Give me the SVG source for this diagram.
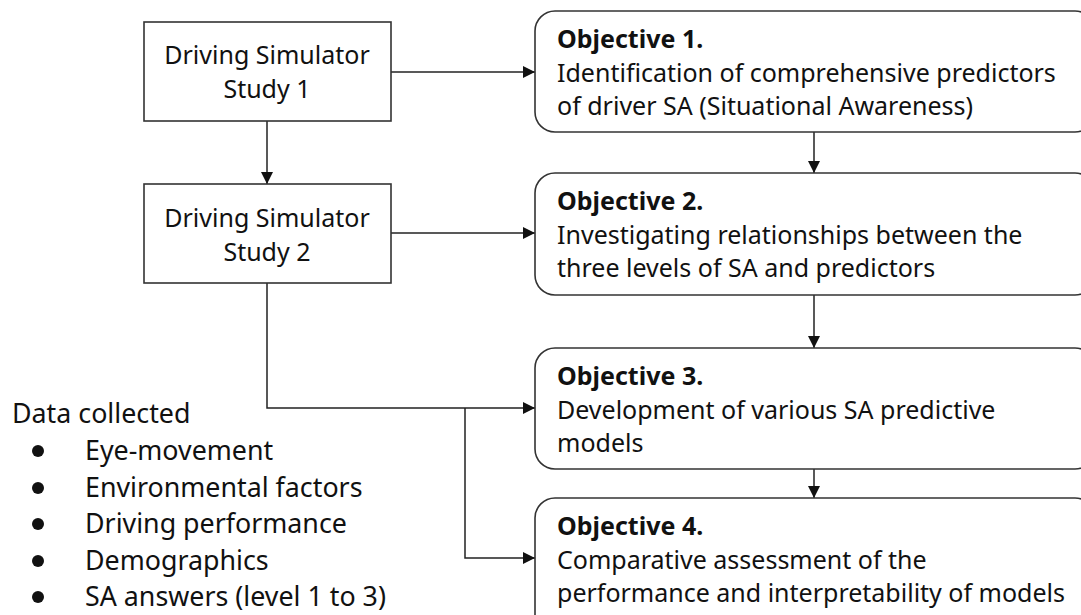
<svg xmlns="http://www.w3.org/2000/svg" width="1081" height="615" viewBox="0 0 1081 615">
<style>
text{font-family:"Noto Sans","Open Sans",sans-serif;font-size:25px;fill:#111}
.b{font-weight:bold}
.l{font-size:26.8px}
.box{fill:#fff;stroke:#333;stroke-width:1.6}
.c{fill:none;stroke:#222;stroke-width:1.5;marker-end:url(#ah)}
.dot{fill:#111}
</style>
<defs>
<marker id="ah" viewBox="0 0 10 10" refX="10" refY="5" markerWidth="13" markerHeight="12" markerUnits="userSpaceOnUse" orient="auto">
<path d="M0,0 L10,5 L0,10 z" fill="#111"/>
</marker>
</defs>
<rect width="1081" height="615" fill="#fff"/>
<g id="connectors">
<path class="c" d="M391,72 H535"/>
<path class="c" d="M267,121 V184"/>
<path class="c" d="M391,233 H535"/>
<path class="c" d="M814,132 V173"/>
<path class="c" d="M814,295 V348"/>
<path class="c" d="M814,469 V498"/>
<path class="c" d="M267,283 V408 H535"/>
<path class="c" d="M465,408 V558 H535"/>
</g>
<g id="study1">
<rect class="box" x="144" y="22" width="247" height="99"/>
<text x="267" y="64" text-anchor="middle">Driving Simulator</text>
<text x="267" y="98" text-anchor="middle">Study 1</text>
</g>
<g id="study2">
<rect class="box" x="144" y="184" width="247" height="99"/>
<text x="267" y="227" text-anchor="middle">Driving Simulator</text>
<text x="267" y="261" text-anchor="middle">Study 2</text>
</g>
<g id="obj1">
<rect class="box" x="535" y="11" width="560" height="121" rx="20"/>
<text x="557" y="48" class="b">Objective 1.</text>
<text x="557" y="82">Identification of comprehensive predictors</text>
<text x="557" y="115">of driver SA (Situational Awareness)</text>
</g>
<g id="obj2">
<rect class="box" x="535" y="173" width="560" height="122" rx="20"/>
<text x="557" y="210" class="b">Objective 2.</text>
<text x="557" y="244">Investigating relationships between the</text>
<text x="557" y="277">three levels of SA and predictors</text>
</g>
<g id="obj3">
<rect class="box" x="535" y="348" width="560" height="121" rx="20"/>
<text x="557" y="385" class="b">Objective 3.</text>
<text x="557" y="419">Development of various SA predictive</text>
<text x="557" y="452">models</text>
</g>
<g id="obj4">
<rect class="box" x="535" y="498" width="560" height="140" rx="20"/>
<text x="557" y="535" class="b">Objective 4.</text>
<text x="557" y="569">Comparative assessment of the</text>
<text x="557" y="602">performance and interpretability of models</text>
</g>
<g id="data">
<text x="12" y="423" class="l">Data collected</text>
<circle class="dot" cx="38" cy="451" r="6"/>
<text x="85" y="460" class="l">Eye-movement</text>
<circle class="dot" cx="38" cy="488" r="6"/>
<text x="85" y="497" class="l">Environmental factors</text>
<circle class="dot" cx="38" cy="524" r="6"/>
<text x="85" y="533" class="l">Driving performance</text>
<circle class="dot" cx="38" cy="561" r="6"/>
<text x="85" y="570" class="l">Demographics</text>
<circle class="dot" cx="38" cy="597" r="6"/>
<text x="85" y="606" class="l">SA answers (level 1 to 3)</text>
</g>
</svg>
